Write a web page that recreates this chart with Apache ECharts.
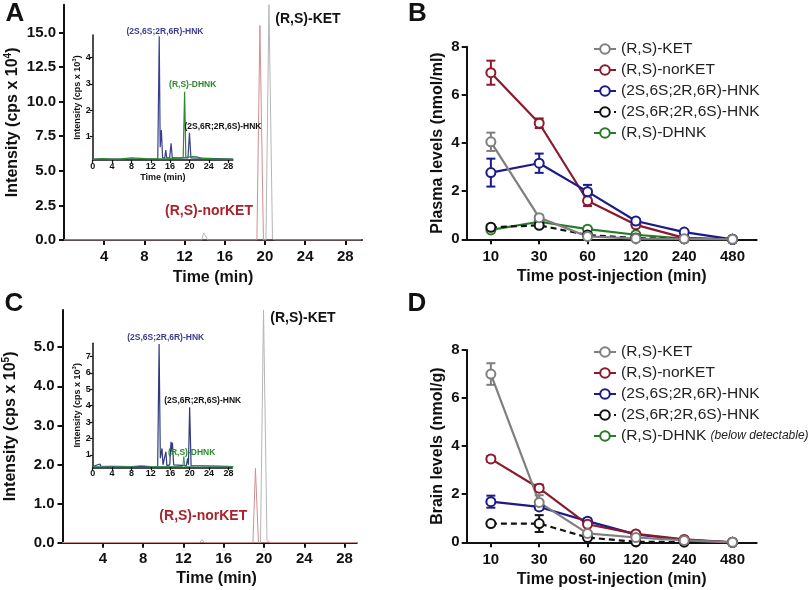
<!DOCTYPE html>
<html>
<head>
<meta charset="utf-8">
<script src="https://cdn.jsdelivr.net/npm/echarts@6/dist/echarts.min.js"></script>
<style>
html,body{margin:0;padding:0;background:#fff;}
#c{width:810px;height:590px;}
</style>
</head>
<body>
<div id="c"></div>
<script>
// ---------- DATA ----------
const timeCats = ['10', '30', '60', '120', '240', '480'];

const plasmaKET = [4.05, 0.9, 0.12, 0.03, 0.02, 0];
const plasmaKETsem = [0.38, 0.1, 0.04, 0, 0, 0];
const plasmaNorKET = [6.92, 4.82, 1.6, 0.6, 0.06, 0];
const plasmaNorKETsem = [0.5, 0.2, 0.22, 0.05, 0, 0];
const plasmaHNK = [2.77, 3.16, 1.98, 0.76, 0.3, 0];
const plasmaHNKsem = [0.58, 0.4, 0.28, 0.05, 0.03, 0];
const plasmaHNK2 = [0.5, 0.58, 0.18, 0.05, 0.02, 0];
const plasmaHNK2sem = [0.05, 0.1, 0, 0, 0, 0];
const plasmaDHNK = [0.39, 0.73, 0.42, 0.19, 0.03, 0];

const brainKET = [7.0, 1.66, 0.37, 0.2, 0.08, 0];
const brainKETsem = [0.45, 0.3, 0.05, 0, 0, 0];
const brainNorKET = [3.47, 2.25, 0.75, 0.35, 0.12, 0];
const brainNorKETsem = [0.12, 0.15, 0.08, 0.03, 0, 0];
const brainHNK = [1.69, 1.47, 0.88, 0.33, 0.1, 0];
const brainHNKsem = [0.25, 0.1, 0.1, 0, 0, 0];
const brainHNK2 = [0.78, 0.78, 0.2, 0.02, 0.01, 0];
const brainHNK2sem = [0.05, 0.35, 0.05, 0, 0, 0];
const brainDHNK = [];

// chromatograms: [time (min), intensity]
const chromA_KET = [[0,0],[13.7,0],[13.9,0.5],[14.05,0.35],[14.3,0],[20.1,0],[20.4,17],[20.75,0.1],[21,0],[29.6,0]];
const chromA_norKET = [[0,0],[19.2,0],[19.5,15.5],[19.85,0],[29.6,0]];
const insetA_HNK = [[0,0.15],[13.45,0.15],[13.75,4.8],[13.95,0.6],[14.2,1.25],[14.45,0.2],[14.9,0.2],[15.1,0.5],[15.3,0.2],[15.9,0.2],[16.2,0.75],[16.45,0.2],[19.7,0.2],[20.0,1.15],[20.3,0.2],[29,0.15]];
const insetA_DHNK = [[0,0.14],[2,0.17],[4,0.15],[6,0.16],[8,0.2],[8.3,0.15],[11,0.17],[13.5,0.16],[16,0.17],[18.7,0.2],[19.0,2.7],[19.25,0.22],[20.5,0.25],[21.5,0.24],[22.5,0.18],[25,0.16],[29,0.15]];
const chromC_KET = [[0,0],[13.6,0],[13.85,0.08],[14.1,0],[19.65,0],[19.95,5.95],[20.3,0.05],[20.6,0],[29.2,0]];
const chromC_norKET = [[0,0],[18.9,0],[19.15,1.9],[19.45,0],[29.2,0]];
const insetC_HNK = [[0,0.3],[1.5,0.45],[1.7,0.3],[13.4,0.3],[13.7,7.75],[13.95,0.8],[14.3,1.4],[14.5,0.4],[14.9,0.35],[15.1,1.2],[15.3,0.35],[15.9,0.4],[16.15,1.8],[16.3,1.2],[16.45,1.75],[16.7,0.4],[19.3,0.35],[19.6,0.8],[19.75,0.4],[20.0,3.9],[20.3,0.35],[29,0.3]];
const insetC_DHNK = [[0,0.3],[4,0.32],[8,0.3],[10,0.35],[12,0.3],[18.6,0.3],[18.8,0.9],[19.0,0.3],[22,0.33],[29,0.3]];

// tick values
const chromXTicks = [4, 8, 12, 16, 20, 24, 28];
const chromAYTicks = [0, 2.5, 5, 7.5, 10, 12.5, 15];
const chromCYTicks = [0, 1, 2, 3, 4, 5];
const insetXTicks = [0, 4, 8, 12, 16, 20, 24, 28];
const insetAYTicks = [1, 2, 3, 4];
const insetCYTicks = [1, 2, 3, 4, 5, 6, 7];

// ---------- STYLE ----------
const FF = 'Liberation Sans, Arial, Helvetica, sans-serif';
const C_KET = '#7f7f7f', C_NOR = '#8b1a2c', C_HNK = '#1b1b8a', C_HNK2 = '#111111', C_DHNK = '#2a7a2a';
const names = ['(R,S)-KET', '(R,S)-norKET', '(2S,6S;2R,6R)-HNK', '(2S,6R;2R,6S)-HNK', '(R,S)-DHNK'];

function chromValAxis(grid, min, max, ticks, fmt, name, gap, extra) {
  return Object.assign({
    type: 'value', gridIndex: grid, min: min, max: max,
    axisLine: {show: true, onZero: false, lineStyle: {color: '#111', width: 2}},
    axisTick: {show: true, length: 5, lineStyle: {color: '#111', width: 2}, customValues: ticks},
    axisLabel: {customValues: ticks, fontSize: 15, fontWeight: 'bold', color: '#111', fontFamily: FF, formatter: fmt},
    splitLine: {show: false},
    name: name, nameLocation: 'middle', nameGap: gap,
    nameTextStyle: {fontSize: 16, fontWeight: 'bold', color: '#111', fontFamily: FF}
  }, extra || {});
}
function insetAxis(grid, min, max, ticks, extra) {
  return Object.assign({
    type: 'value', gridIndex: grid, min: min, max: max,
    axisLine: {show: true, onZero: false, lineStyle: {color: '#111', width: 1.5}},
    axisTick: {show: true, length: 3, lineStyle: {color: '#111', width: 1.2}, customValues: ticks},
    axisLabel: {customValues: ticks, fontSize: 9, fontWeight: 'bold', color: '#111', fontFamily: FF, margin: 2},
    splitLine: {show: false},
    nameTextStyle: {fontSize: 9, fontWeight: 'bold', color: '#111', fontFamily: FF}
  }, extra || {});
}
function catAxis(grid) {
  return {
    type: 'category', gridIndex: grid, data: timeCats, boundaryGap: true,
    axisLine: {show: true, onZero: false, lineStyle: {color: '#111', width: 2}},
    axisTick: {show: true, alignWithLabel: true, length: 5, lineStyle: {color: '#111', width: 2}},
    axisLabel: {fontSize: 15, fontWeight: 'bold', color: '#111', fontFamily: FF, margin: 10},
    splitLine: {show: false},
    name: 'Time post-injection (min)', nameLocation: 'middle', nameGap: 29,
    nameTextStyle: {fontSize: 16, fontWeight: 'bold', color: '#111', fontFamily: FF}
  };
}
function levelAxis(grid, name) {
  return {
    type: 'value', gridIndex: grid, min: 0, max: 8, interval: 2,
    axisLine: {show: true, onZero: false, lineStyle: {color: '#111', width: 2}},
    axisTick: {show: true, length: 5, lineStyle: {color: '#111', width: 2}},
    axisLabel: {fontSize: 15, fontWeight: 'bold', color: '#111', fontFamily: FF, margin: 7},
    splitLine: {show: false},
    name: name, nameLocation: 'middle', nameGap: 21,
    nameTextStyle: {fontSize: 16, fontWeight: 'bold', color: '#111', fontFamily: FF}
  };
}
const supRich = {
  t: {fontSize: 16, fontWeight: 'bold', color: '#111', fontFamily: FF},
  s: {fontSize: 10, fontWeight: 'bold', color: '#111', fontFamily: FF, padding: [0, 0, 9, 0]}
};
const supRichSmall = {
  t: {fontSize: 9, fontWeight: 'bold', color: '#111', fontFamily: FF},
  s: {fontSize: 6, fontWeight: 'bold', color: '#111', fontFamily: FF, padding: [0, 0, 5, 0]}
};

function trace(data, color, xi, width) {
  return {type: 'line', xAxisIndex: xi, yAxisIndex: xi, data: data, showSymbol: false, symbol: 'none',
    lineStyle: {color: color, width: width || 1}, silent: true, animation: false, z: 2};
}
function levelLine(name, data, color, xi, dashed) {
  return {type: 'line', name: name, xAxisIndex: xi, yAxisIndex: xi, data: data,
    symbol: 'circle', symbolSize: 9, showSymbol: true,
    lineStyle: {color: color, width: 2.2, type: dashed ? [6, 4] : 'solid'},
    itemStyle: {color: '#fff', borderColor: color, borderWidth: 2},
    animation: false, z: 3};
}
function errData(vals, sems) {
  const out = [];
  vals.forEach(function (v, i) { if (sems[i] > 0) out.push([i, Math.max(0, v - sems[i]), v + sems[i]]); });
  return out;
}
function errSeries(vals, sems, color, xi) {
  return {type: 'custom', xAxisIndex: xi, yAxisIndex: xi, data: errData(vals, sems),
    encode: {x: 0, y: [1, 2]}, animation: false, silent: true, z: 2,
    renderItem: function (params, api) {
      const xv = api.value(0);
      const lo = api.coord([xv, api.value(1)]);
      const hi = api.coord([xv, api.value(2)]);
      const w = 4.5;
      const st = {stroke: color, lineWidth: 2};
      return {type: 'group', children: [
        {type: 'line', shape: {x1: lo[0], y1: lo[1], x2: hi[0], y2: hi[1]}, style: st},
        {type: 'line', shape: {x1: hi[0] - w, y1: hi[1], x2: hi[0] + w, y2: hi[1]}, style: st},
        {type: 'line', shape: {x1: lo[0] - w, y1: lo[1], x2: lo[0] + w, y2: lo[1]}, style: st}
      ]};
    }};
}
function txt(x, y, text, size, color, weight, extra) {
  return Object.assign({type: 'text', x: x, y: y, silent: true, z: 50,
    style: {text: text, fontSize: size, fontWeight: weight || 'bold', fontFamily: FF, fill: color,
      align: 'center', verticalAlign: 'middle'}}, extra || {});
}
function legendCfg(top, formatter, rich) {
  return {
    orient: 'vertical', left: 588, top: top, itemWidth: 22, itemHeight: 12, itemGap: 5,
    data: names, selectedMode: false,
    textStyle: {fontSize: 15.5, color: '#222', fontFamily: FF, rich: rich},
    formatter: formatter
  };
}

const option = {
  backgroundColor: '#fff',
  animation: false,
  grid: [
    {left: 64, top: 4.7, width: 298, height: 235.3, outerBoundsMode: 'none'},
    {left: 92.7, top: 35, width: 140.3, height: 125, outerBoundsMode: 'none'},
    {left: 466.7, top: 46.7, width: 290, height: 192.6, outerBoundsMode: 'none'},
    {left: 62.5, top: 310, width: 294.2, height: 232.7, outerBoundsMode: 'none'},
    {left: 92.7, top: 343.3, width: 139.6, height: 124, outerBoundsMode: 'none'},
    {left: 466.7, top: 350, width: 290, height: 192.3, outerBoundsMode: 'none'}
  ],
  xAxis: [
    chromValAxis(0, 0, 29.66, chromXTicks, null, 'Time (min)', 30, {axisLabel: {customValues: chromXTicks, fontSize: 15, fontWeight: 'bold', color: '#111', fontFamily: FF, margin: 9}}),
    insetAxis(1, 0, 29, insetXTicks, {name: 'Time (min)', nameLocation: 'middle', nameGap: 13}),
    catAxis(2),
    chromValAxis(3, 0, 29.2, chromXTicks, null, 'Time (min)', 28, {axisLabel: {customValues: chromXTicks, fontSize: 15, fontWeight: 'bold', color: '#111', fontFamily: FF, margin: 9},
      nameTextStyle: {fontSize: 16, fontWeight: 'bold', color: '#111', fontFamily: FF, padding: [0, 0, 0, 14]}}),
    insetAxis(4, 0, 28.8, insetXTicks),
    catAxis(5)
  ],
  yAxis: [
    chromValAxis(0, 0, 17, chromAYTicks, function (v) { return v.toFixed(1); }, '{t|Intensity (cps x 10}{s|4}{t|)}', 42,
      {nameTextStyle: {rich: supRich, fontSize: 16, fontWeight: 'bold', color: '#111', fontFamily: FF}}),
    insetAxis(1, 0.12, 4.85, insetAYTicks, {name: '{t|Intensity (cps x 10}{s|3}{t|)}', nameLocation: 'middle', nameGap: 9,
      nameTextStyle: {rich: supRichSmall, fontSize: 9, fontWeight: 'bold', color: '#111', fontFamily: FF}}),
    levelAxis(2, 'Plasma levels (nmol/ml)'),
    chromValAxis(3, 0, 5.95, chromCYTicks, function (v) { return v.toFixed(1); }, '{t|Intensity (cps x 10}{s|5}{t|)}', 42,
      {nameTextStyle: {rich: supRich, fontSize: 16, fontWeight: 'bold', color: '#111', fontFamily: FF}}),
    insetAxis(4, 0.25, 7.8, insetCYTicks, {name: '{t|Intensity (cps x 10}{s|3}{t|)}', nameLocation: 'middle', nameGap: 9,
      nameTextStyle: {rich: supRichSmall, fontSize: 9, fontWeight: 'bold', color: '#111', fontFamily: FF}}),
    levelAxis(5, 'Brain levels (nmol/g)')
  ],
  legend: [
    legendCfg(36),
    legendCfg(339, function (n) { return n === '(R,S)-DHNK' ? '{n|(R,S)-DHNK} {i|(below detectable)}' : n; },
      {n: {fontSize: 15.5, color: '#222', fontFamily: FF}, i: {fontSize: 12, fontStyle: 'italic', color: '#222', fontFamily: FF}})
  ],
  series: [
    // A
    trace(chromA_KET, '#b5b5b5', 0),
    trace(chromA_norKET, '#cf8f8f', 0),
    trace(insetA_HNK, '#3a3f8f', 1, 1.2),
    trace(insetA_DHNK, '#2e8b2e', 1, 1.2),
    // C
    trace(chromC_KET, '#b5b5b5', 3),
    trace(chromC_norKET, '#cf8f8f', 3),
    trace(insetC_HNK, '#2f3a7f', 4, 1.2),
    trace(insetC_DHNK, '#3f8f5f', 4, 1.0),
    // B
    errSeries(plasmaKET, plasmaKETsem, C_KET, 2),
    errSeries(plasmaNorKET, plasmaNorKETsem, C_NOR, 2),
    errSeries(plasmaHNK, plasmaHNKsem, C_HNK, 2),
    errSeries(plasmaHNK2, plasmaHNK2sem, C_HNK2, 2),
    levelLine(names[4], plasmaDHNK, C_DHNK, 2),
    levelLine(names[3], plasmaHNK2, C_HNK2, 2, true),
    levelLine(names[1], plasmaNorKET, C_NOR, 2),
    levelLine(names[2], plasmaHNK, C_HNK, 2),
    levelLine(names[0], plasmaKET, C_KET, 2),
    // D
    errSeries(brainKET, brainKETsem, C_KET, 5),
    errSeries(brainNorKET, brainNorKETsem, C_NOR, 5),
    errSeries(brainHNK, brainHNKsem, C_HNK, 5),
    errSeries(brainHNK2, brainHNK2sem, C_HNK2, 5),
    levelLine(names[4], brainDHNK, C_DHNK, 5),
    levelLine(names[3], brainHNK2, C_HNK2, 5, true),
    levelLine(names[2], brainHNK, C_HNK, 5),
    levelLine(names[1], brainNorKET, C_NOR, 5),
    levelLine(names[0], brainKET, C_KET, 5)
  ],
  graphic: [
    txt(15, 14, 'A', 26, '#111'),
    txt(417.5, 14, 'B', 26, '#111'),
    txt(14, 304, 'C', 26, '#111'),
    txt(417, 304, 'D', 26, '#111'),
    txt(308, 19.3, '(R,S)-KET', 14, '#111'),
    txt(209, 210.7, '(R,S)-norKET', 14, '#a8242c'),
    txt(165, 31.7, '(2S,6S;2R,6R)-HNK', 8.5, '#3c3c8c'),
    txt(192.7, 85, '(R,S)-DHNK', 8.5, '#2a8a2a'),
    txt(223, 126.7, '(2S,6R;2R,6S)-HNK', 8.5, '#111'),
    txt(303, 318.3, '(R,S)-KET', 14, '#111'),
    txt(203.3, 515.7, '(R,S)-norKET', 14, '#a8242c'),
    txt(165.7, 337.7, '(2S,6S;2R,6R)-HNK', 8.5, '#3c3c8c'),
    txt(202.7, 400.7, '(2S,6R;2R,6S)-HNK', 8.5, '#111'),
    txt(191.7, 452.7, '(R,S)-DHNK', 8.5, '#2a8a2a')
  ]
};

const chart = echarts.init(document.getElementById('c'), null, {renderer: 'canvas', width: 810, height: 590});
chart.setOption(option);
</script>
</body>
</html>
